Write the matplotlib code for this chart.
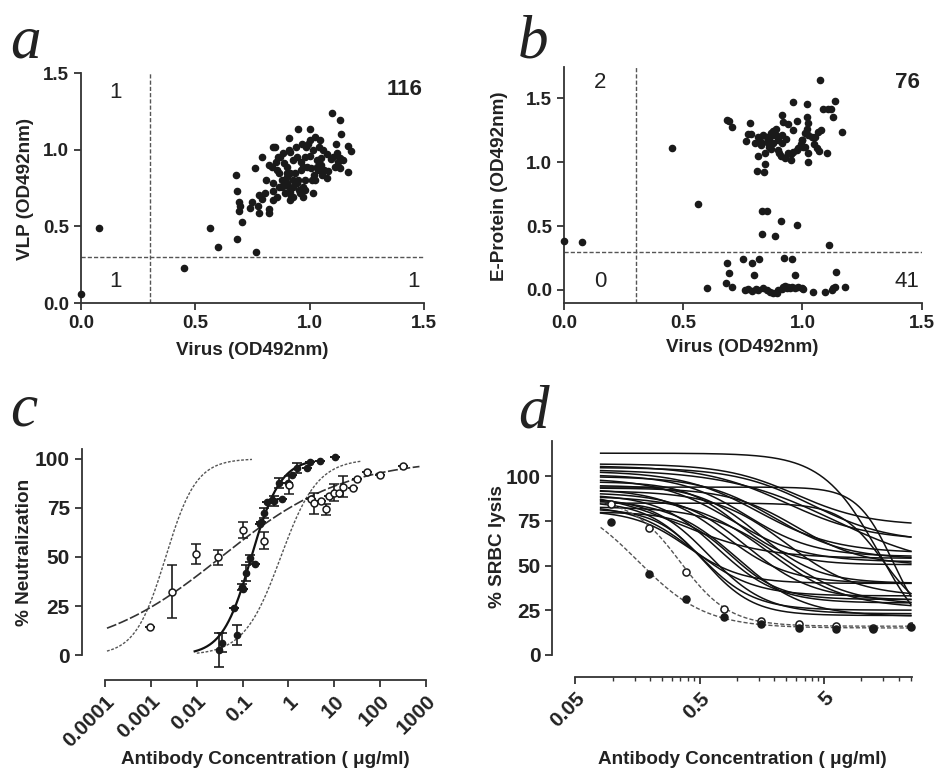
import numpy as np
import matplotlib.pyplot as plt
from matplotlib.ticker import FixedLocator, NullFormatter, LogLocator

plt.rcParams['font.family'] = ['Liberation Sans', 'DejaVu Sans']
INK = '#222222'

# ---- panel a : VLP vs virus ----
a_x = [0.0, 0.077, 0.45, 0.563, 0.60, 0.684, 0.764, 0.68, 0.682, 0.69, 0.69, 0.704, 0.695,
       0.762, 0.75, 0.774, 0.78, 0.777, 0.793, 0.806, 0.82, 0.824, 0.81, 0.834, 0.838, 0.85,
       0.841, 0.838, 0.856, 0.864, 0.853, 0.87, 0.882, 0.888, 0.90, 0.908, 0.908, 0.914, 0.902,
       0.914, 0.929, 0.929, 0.936, 0.943, 0.95, 0.952, 0.964, 0.972, 0.972, 0.98, 0.98, 0.99,
       0.994, 1.0, 1.0, 1.007, 1.016, 1.019, 1.023, 1.03, 1.038, 1.045, 1.048, 1.052, 1.063,
       1.074, 1.077, 1.098, 1.104, 1.11, 1.115, 1.124, 1.133, 1.138, 1.133, 1.147, 1.168, 1.168,
       1.18, 1.133, 1.093, 0.914, 0.929, 0.958, 0.95, 0.892, 0.878, 0.90, 1.016, 1.03, 0.972,
       0.943, 0.985, 1.04, 1.023, 0.914, 0.856, 0.965, 0.929, 0.908, 0.866, 0.88, 0.92, 0.96,
       1.00, 1.05, 1.08, 0.86, 0.82, 0.79, 0.84, 0.94, 1.01, 1.12, 0.98, 0.90, 0.74, 1.06]
a_y = [0.06, 0.49, 0.23, 0.49, 0.365, 0.415, 0.333, 0.837, 0.733, 0.66, 0.60, 0.526, 0.635,
       0.883, 0.66, 0.633, 0.704, 0.585, 0.954, 0.715, 0.585, 0.61, 0.80, 0.889, 1.02, 1.02,
       0.78, 0.672, 0.693, 0.759, 0.92, 0.954, 0.976, 0.915, 0.846, 1.076, 0.998, 0.987, 0.785,
       0.726, 0.933, 0.759, 0.846, 0.78, 1.133, 0.737, 0.867, 0.759, 0.693, 0.802, 0.954, 0.889,
       1.04, 1.133, 1.063, 0.878, 0.715, 0.835, 1.085, 0.933, 0.867, 1.063, 0.943, 0.835, 0.867,
       0.813, 0.972, 1.241, 0.954, 0.889, 1.04, 0.922, 1.193, 1.102, 0.948, 0.933, 0.854, 1.024,
       0.993, 0.878, 0.937, 0.672, 0.693, 0.715, 0.802, 0.715, 0.759, 0.889, 0.998, 0.889, 0.889,
       0.954, 1.02, 1.02, 0.802, 0.846, 0.867, 1.04, 0.802, 0.759, 0.846, 0.80, 0.70, 0.92,
       0.96, 0.90, 0.86, 0.95, 0.90, 0.68, 0.73, 1.02, 0.80, 0.98, 0.74, 0.82, 0.62, 1.00]
a_counts = ['1', '116', '1', '1']

# ---- panel b : E-protein vs virus ----
b_x = [0.0, 0.077, 0.452, 0.564, 0.60,
       0.683, 0.694, 0.703, 0.778, 0.764, 0.771, 0.785, 0.813, 0.822, 0.827, 0.815, 0.811,
       0.839, 0.841, 0.841, 0.836, 0.85, 0.86, 0.869, 0.878, 0.882, 0.888, 0.878, 0.913, 0.92,
       0.916, 0.916, 0.899, 0.903, 0.91, 0.927, 0.941, 0.941, 0.952, 0.962, 0.962, 0.979, 0.976,
       0.994, 1.004, 1.011, 1.018, 1.018, 1.025, 1.011, 1.025, 1.025, 1.025, 1.039, 1.053, 1.06,
       1.067, 1.074, 1.078, 1.088, 1.102, 1.109, 1.12, 1.137, 1.13, 1.165, 0.997, 0.899, 0.85,
       0.983, 0.87, 0.93, 0.96, 1.00, 1.05, 0.80, 0.89, 1.07, 0.95, 1.02, 0.86,
       0.829, 0.85, 0.909, 0.979, 0.832, 0.885, 1.113,
       0.683, 0.752, 0.787, 0.818, 0.923, 0.958, 0.692, 0.797, 0.969, 1.141, 0.681, 0.703,
       0.759, 0.773, 0.79, 0.804, 0.836, 0.85, 0.864, 0.878, 0.892, 0.92, 0.927, 0.934, 0.941,
       0.948, 0.958, 0.969, 0.983, 0.997, 1.046, 1.095, 1.123, 1.13, 1.137, 1.179, 0.913,
       0.899, 0.815, 1.004]
b_y = [0.383, 0.375, 1.109, 0.672, 0.018,
       1.328, 1.323, 1.271, 1.307, 1.164, 1.216, 1.216, 1.198, 1.167, 1.133, 1.049, 0.932,
       0.922, 0.984, 1.068, 1.211, 1.198, 1.12, 1.224, 1.245, 1.211, 1.255, 1.146, 1.367, 1.315,
       1.211, 1.146, 1.094, 1.068, 1.047, 1.029, 1.297, 1.073, 1.016, 1.471, 1.081, 1.323, 1.094,
       1.141, 1.12, 1.12, 1.453, 1.354, 1.302, 1.224, 1.211, 1.068, 1.003, 1.198, 1.198, 1.107,
       1.237, 1.641, 1.25, 1.411, 1.068, 1.411, 1.411, 1.477, 1.349, 1.232, 1.172, 1.172, 1.159,
       1.107, 1.10, 1.18, 1.25, 1.17, 1.14, 1.15, 1.21, 1.09, 1.06, 1.26, 1.18,
       0.617, 0.617, 0.539, 0.508, 0.435, 0.424, 0.349,
       0.208, 0.242, 0.208, 0.24, 0.247, 0.24, 0.13, 0.117, 0.117, 0.143, 0.052, 0.026,
       0.0, 0.005, -0.005, 0.005, 0.013, 0.0, -0.013, -0.021, -0.021, 0.021, 0.031, 0.013, 0.026,
       0.013, 0.026, 0.013, 0.021, 0.013, -0.018, -0.018, 0.0, 0.013, 0.026, 0.026, 0.005,
       0.0, 0.0, 0.005]
b_counts = ['2', '76', '0', '41']

# ---- panel c : neutralization ----
c_filled_x = [0.031, 0.035, 0.065, 0.098, 0.102, 0.12, 0.148, 0.182, 0.245, 0.25, 0.30,
              0.347, 0.447, 0.49, 0.617, 0.733, 1.0, 1.22, 1.57, 2.57, 2.95, 4.9, 10.5]
c_filled_y = [2.7, 6.4, 23.9, 34.6, 33.8, 41.7, 49.3, 46.4, 66.8, 68.0, 72.2,
              78.1, 79.0, 78.5, 87.5, 79.3, 87.5, 91.7, 95.1, 95.1, 98.3, 98.8, 100.7]
c_filled_err = [8.5, 5.0, 0, 1.5, 0, 4.0, 1.8, 0, 0, 0, 2.5,
                0, 0, 2.5, 2.5, 0, 0, 0, 2.5, 0, 0, 0, 0]
c_filled2_x = [0.076]
c_filled2_y = [10.3]
c_filled2_err = [5.3]
c_open_x = [0.00097, 0.0029, 0.0098, 0.0285, 0.101, 0.295, 1.02, 3.06, 3.6, 5.07, 6.5,
            7.7, 9.9, 12.6, 15.1, 25.1, 30.6, 50.7, 100, 309]
c_open_y = [14.5, 32.4, 51.4, 49.8, 63.7, 58.3, 86.6, 79.3, 77.3, 78.6, 74.2,
            81.0, 82.7, 82.4, 85.8, 84.9, 89.5, 93.1, 91.7, 96.3]
c_open_err = [0, 13.5, 5.0, 4.0, 4.2, 4.2, 4.8, 0, 5.2, 0, 3.0,
              0, 4.3, 0, 5.2, 0, 0, 0, 0, 0]
# 4-parameter logistic fits (bottom, top, EC50, Hill) and drawn x-range
c_fit_open = (0, 100, 0.034, 0.32, 1.1e-4, 720)
c_fit_filled = (0, 100, 0.155, 1.37, 0.009, 3.5)
c_ref_left = (0, 100, 0.0021, 1.3, 1.1e-4, 0.16)
c_ref_right = (0, 100, 0.68, 1.08, 0.01, 40)
c_xticks = [0.0001, 0.001, 0.01, 0.1, 1, 10, 100, 1000]
c_xticklabels = ['0.0001', '0.001', '0.01', '0.1', '1', '10', '100', '1000']

# ---- panel d : SRBC lysis ----
d_conc = [0.0977, 0.195, 0.39, 0.78, 1.5625, 3.125, 6.25, 12.5, 25]
d_filled_y = [74.4, 45.4, 31.0, 20.9, 17.4, 15.1, 14.6, 14.2, 15.5]
d_open_y = [84.3, 71.2, 46.4, 25.6, 18.9, 17.2, 16.1, 15.0, 16.1]
# fits: top, bottom, EC50, Hill
d_fit_filled = (90, 15, 0.16, 1.6)
d_fit_open = (88, 16, 0.35, 2.2)
d_tops = [113, 107, 106, 105, 104, 103, 101, 100, 99, 97, 95, 93, 92, 91, 90, 89,
          88, 87, 86, 85, 84, 83, 82, 81, 80, 93.5, 92, 94]
d_bottoms = [0, 72.5, 64, 63, 47, 57, 55, 53.5, 52, 50.5, 40, 40, 32.5, 30.5, 29, 26,
             23, 21.5, 25, 20, 33, 28, 22, 40, 31, 50, 54, 10]
d_ec50s = [14, 3.0, 2.5, 4.0, 6, 1.5, 1.2, 2.0, 0.9, 1.0, 1.5, 0.8, 2.5, 1.2, 0.7, 1.8,
           0.6, 1.0, 0.5, 15, 0.45, 2.2, 0.55, 0.4, 0.9, 3.0, 0.35, 18]
d_hills = [1.9, 1.5, 1.3, 1.4, 1.0, 1.4, 1.6, 1.5, 1.5, 2.0, 1.8, 1.7, 1.5, 1.6, 1.8, 1.4,
           1.9, 1.6, 2.0, 2.5, 1.8, 1.5, 2.2, 2.0, 2.2, 1.6, 1.3, 3.0]
d_minor = [0.1, 0.15, 0.2, 0.25, 0.3, 0.35, 0.4, 0.45, 1, 1.5, 2, 2.5, 3, 3.5, 4, 4.5,
           10, 15, 20, 25]


def rising(x, bottom, top, ec50, hill):
    return bottom + (top - bottom) / (1 + (ec50 / x) ** hill)


def falling(x, top, bottom, ec50, hill):
    return bottom + (top - bottom) / (1 + (x / ec50) ** hill)


def style(ax, fs):
    for s in ['top', 'right']:
        ax.spines[s].set_visible(False)
    for s in ['left', 'bottom']:
        ax.spines[s].set_linewidth(1.3)
        ax.spines[s].set_color('#333333')
    ax.tick_params(which='major', direction='out', length=5, width=1.3, color='#333333',
                   labelsize=fs, labelcolor=INK)
    ax.tick_params(which='minor', direction='out', length=3, width=1.0, color='#333333')
    for lab in ax.get_xticklabels() + ax.get_yticklabels():
        lab.set_fontweight('bold')


fig = plt.figure(figsize=(9.35, 7.7), dpi=100)

def box(l, t, r, b):
    W, H = 935, 770
    return [l / W, 1 - b / H, (r - l) / W, (b - t) / H]

dash = dict(color='#555555', lw=1.0, ls=(0, (3, 1.5)))
numfont = dict(fontsize=16, color=INK, ha='center', va='center')

# panel a
ax = fig.add_axes(box(81, 73, 424, 303))
ax.scatter(a_x, a_y, s=20, color='#1a1a1a', zorder=3, clip_on=False)
ax.plot([0.3, 0.3], [0, 1.5], **dash)
ax.plot([0, 1.5], [0.3, 0.3], **dash)
ax.set_xlim(0, 1.5)
ax.set_ylim(0, 1.5)
ax.set_xticks([0, 0.5, 1.0, 1.5])
ax.set_yticks([0, 0.5, 1.0, 1.5])
ax.set_xticklabels(['0.0', '0.5', '1.0', '1.5'])
ax.set_yticklabels(['0.0', '0.5', '1.0', '1.5'])
style(ax, 13.5)
for (tx, ty), t in zip([(0.149, 1.37), (1.417, 1.39), (0.149, 0.137), (1.452, 0.137)], a_counts):
    ax.text(tx, ty, t, fontweight='bold' if t == '116' else 'normal', **numfont)

# panel b
ax = fig.add_axes(box(564, 66.7, 921.7, 303.3))
ax.scatter(b_x, b_y, s=20, color='#1a1a1a', zorder=3, clip_on=False)
ax.plot([0.3, 0.3], [-0.104, 1.745], **dash)
ax.plot([0, 1.5], [0.3, 0.3], **dash)
ax.set_xlim(0, 1.5)
ax.set_ylim(-0.104, 1.745)
ax.set_xticks([0, 0.5, 1.0, 1.5])
ax.set_yticks([0, 0.5, 1.0, 1.5])
ax.set_xticklabels(['0.0', '0.5', '1.0', '1.5'])
ax.set_yticklabels(['0.0', '0.5', '1.0', '1.5'])
style(ax, 13.5)
for (tx, ty), t in zip([(0.151, 1.625), (1.441, 1.625), (0.151, 0.07), (1.438, 0.07)], b_counts):
    ax.text(tx, ty, t, fontweight='bold' if t == '76' else 'normal', **numfont)

# panel c
ax = fig.add_axes(box(81.7, 449.3, 426, 680))
ax.set_xscale('log')
for p, kw in [(c_ref_left, dict(color='#555555', lw=1.0, ls=(0, (2, 1.2)))),
              (c_ref_right, dict(color='#555555', lw=1.0, ls=(0, (2, 1.2)))),
              (c_fit_open, dict(color='#333333', lw=1.2, ls=(0, (6, 1.5)))),
              (c_fit_filled, dict(color='#111111', lw=1.6, ls='-'))]:
    xs = np.logspace(np.log10(p[4]), np.log10(p[5]), 300)
    ax.plot(xs, rising(xs, *p[:4]), **kw)
ax.errorbar(c_filled_x, c_filled_y, yerr=c_filled_err, fmt='o', ms=4.5, color='#1a1a1a',
            ecolor='#1a1a1a', elinewidth=1.2, capsize=3.5, capthick=1.2, zorder=3)
ax.errorbar(c_filled2_x, c_filled2_y, yerr=c_filled2_err, fmt='o', ms=4.5, color='#1a1a1a',
            ecolor='#1a1a1a', elinewidth=1.2, capsize=3.5, capthick=1.2, zorder=3)
ax.errorbar(c_open_x, c_open_y, yerr=c_open_err, fmt='o', ms=5, mfc='white', mec='#1a1a1a',
            mew=1.1, ecolor='#1a1a1a', elinewidth=1.2, capsize=3.5, capthick=1.2, zorder=4)
ax.set_xlim(10 ** (-4.51), 1000)
ax.set_ylim(-12.6, 104.8)
ax.spines['left'].set_bounds(0, 104.8)
ax.spines['bottom'].set_bounds(0.0001, 1000)
ax.set_yticks([0, 25, 50, 75, 100])
ax.xaxis.set_major_locator(FixedLocator(c_xticks))
ax.xaxis.set_minor_locator(LogLocator(base=10, subs=np.arange(2, 10)))
ax.xaxis.set_minor_formatter(NullFormatter())
ax.set_xticklabels(c_xticklabels)
style(ax, 15)
for lab in ax.get_xticklabels():
    lab.set_rotation(45)
    lab.set_ha('right')
    lab.set_rotation_mode('anchor')

# panel d
ax = fig.add_axes(box(552.3, 440.7, 911.7, 676.7))
ax.set_xscale('log')
xs = np.logspace(np.log10(0.08), np.log10(25), 300)
for t, b, e, h in zip(d_tops, d_bottoms, d_ec50s, d_hills):
    ax.plot(xs, falling(xs, t, b, e, h), color='#111111', lw=1.1)
ax.plot(xs, falling(xs, *d_fit_open), color='#555555', lw=1.0, ls=(0, (3, 1.5)))
ax.plot(xs, falling(xs, *d_fit_filled), color='#555555', lw=1.0, ls=(0, (3, 1.5)))
ax.scatter(d_conc, d_open_y, s=26, facecolor='white', edgecolor='#1a1a1a', lw=1.1, zorder=3)
ax.scatter(d_conc, d_filled_y, s=26, color='#1a1a1a', zorder=4, clip_on=False)
ax.set_xlim(0.0327, 25.4)
ax.set_ylim(-12.3, 120)
ax.spines['left'].set_bounds(0, 120)
ax.spines['bottom'].set_bounds(0.05, 25.4)
ax.set_yticks([0, 25, 50, 75, 100])
ax.xaxis.set_major_locator(FixedLocator([0.05, 0.5, 5]))
ax.xaxis.set_minor_locator(FixedLocator(d_minor))
ax.xaxis.set_minor_formatter(NullFormatter())
ax.set_xticklabels(['0.05', '0.5', '5'])
style(ax, 15)
for lab in ax.get_xticklabels():
    lab.set_rotation(45)
    lab.set_ha('right')
    lab.set_rotation_mode('anchor')

# labels
def ftext(x, y, s, **kw):
    fig.text(x / 935, 1 - y / 770, s, **kw)

lab = dict(fontsize=13.6, fontweight='bold', color=INK, ha='center', va='center')
ftext(252, 350, 'Virus (OD492nm)', **lab)
ftext(742, 348, 'Virus (OD492nm)', **lab)
ftext(265, 760, 'Antibody Concentration ( μg/ml)', **lab)
ftext(742, 760, 'Antibody Concentration ( μg/ml)', **lab)
ftext(26, 189, 'VLP (OD492nm)', rotation=90, **lab)
ftext(500, 186, 'E-Protein (OD492nm)', rotation=90, **lab)
ftext(25, 552, '% Neutralization', rotation=90, **lab)
ftext(498, 547, '% SRBC lysis', rotation=90, **lab)

big = dict(fontsize=44, style='italic', family=['Liberation Serif', 'DejaVu Serif'],
           color=INK, va='baseline', ha='left')
ftext(10, 58, 'a', **big)
ftext(518, 58, 'b', **big)
ftext(10, 426, 'c', **big)
ftext(518, 428, 'd', **big)

fig.savefig('out.png', dpi=100)
